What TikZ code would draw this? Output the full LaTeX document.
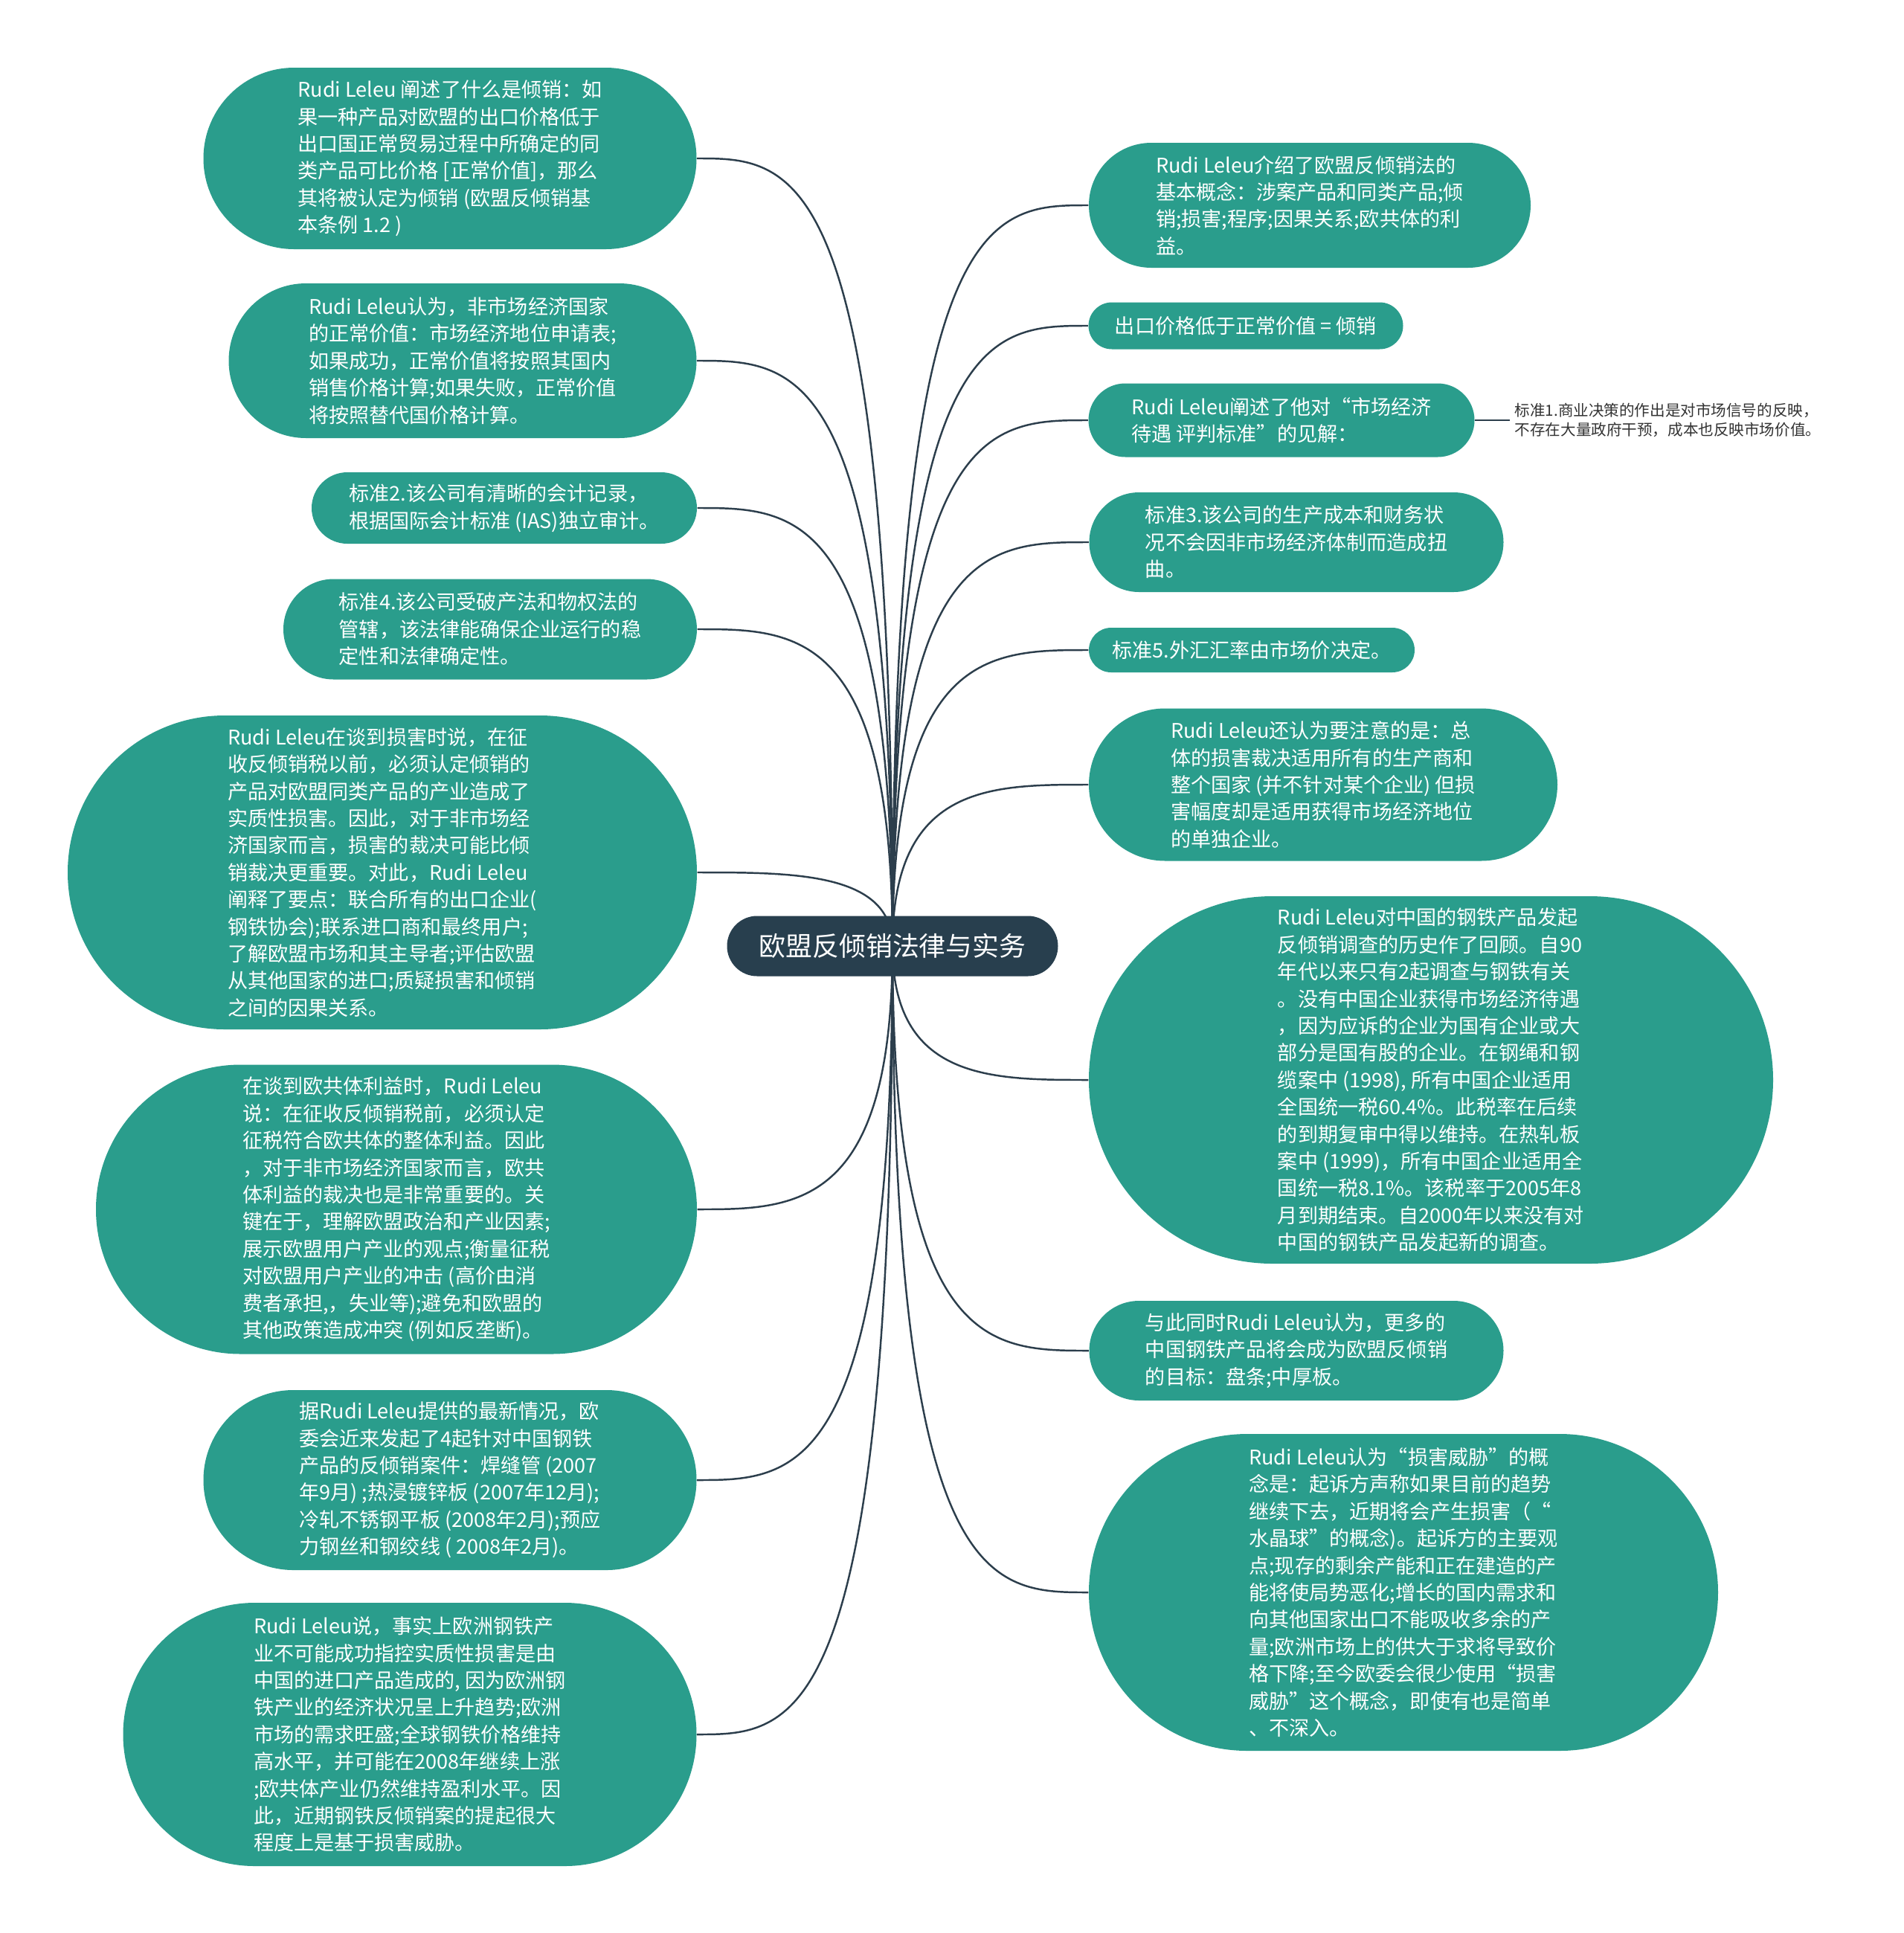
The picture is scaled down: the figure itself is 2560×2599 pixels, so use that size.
\documentclass[tikz,border=0pt]{standalone}
\usepackage{fontspec}
\setmainfont{Noto Sans CJK SC}
\usetikzlibrary{shapes.misc,backgrounds,calc}
\definecolor{leafTeal}{HTML}{2A9D8C}
\definecolor{hubSlate}{HTML}{283F4E}
\definecolor{linkSlate}{HTML}{2C3E4C}

\begin{document}
\begin{tikzpicture}[x=0.01cm,y=-0.01cm,
  leaf/.style={rounded rectangle, fill=leafTeal, text=white, inner sep=0pt, align=left, font=\fontsize{7.7}{10.35}\selectfont},
  hub/.style={rounded rectangle, fill=hubSlate, text=white, inner sep=0pt, font=\fontsize{10.2}{12}\selectfont},
  note/.style={inner sep=0pt, align=left, text=black!80, font=\fontsize{5.85}{7.5}\selectfont},
  link/.style={draw=linkSlate, line width=0.7pt}]
\useasboundingbox (0,0) rectangle (2560,2599);
\node[hub, minimum width=445*0.01cm, minimum height=81*0.01cm] (root) at (1200,1272) {欧盟反倾销法律与实务};
% left branch
\node[leaf, minimum width=663*0.01cm, minimum height=244*0.01cm] (l1) at (605,213) {Rudi Leleu 阐述了什么是倾销：如\\果一种产品对欧盟的出口价格低于\\出口国正常贸易过程中所确定的同\\类产品可比价格 [正常价值]，那么\\其将被认定为倾销 (欧盟反倾销基\\本条例 1.2 )};
\node[leaf, minimum width=629*0.01cm, minimum height=208*0.01cm] (l2) at (622,485) {Rudi Leleu认为，非市场经济国家\\的正常价值：市场经济地位申请表;\\如果成功，正常价值将按照其国内\\销售价格计算;如果失败，正常价值\\将按照替代国价格计算。};
\node[leaf, minimum width=518*0.01cm, minimum height=96*0.01cm] (l3) at (678,683) {标准2.该公司有清晰的会计记录，\\根据国际会计标准 (IAS)独立审计。};
\node[leaf, minimum width=556*0.01cm, minimum height=135*0.01cm] (l4) at (659,846) {标准4.该公司受破产法和物权法的\\管辖，该法律能确保企业运行的稳\\定性和法律确定性。};
\node[leaf, minimum width=846*0.01cm, minimum height=422*0.01cm] (l5) at (514,1173) {Rudi Leleu在谈到损害时说，在征\\收反倾销税以前，必须认定倾销的\\产品对欧盟同类产品的产业造成了\\实质性损害。因此，对于非市场经\\济国家而言，损害的裁决可能比倾\\销裁决更重要。对此，Rudi Leleu\\阐释了要点：联合所有的出口企业(\\钢铁协会);联系进口商和最终用户;\\了解欧盟市场和其主导者;评估欧盟\\从其他国家的进口;质疑损害和倾销\\之间的因果关系。};
\node[leaf, minimum width=808*0.01cm, minimum height=389*0.01cm] (l6) at (533,1626) {在谈到欧共体利益时，Rudi Leleu\\说：在征收反倾销税前，必须认定\\征税符合欧共体的整体利益。因此\\，对于非市场经济国家而言，欧共\\体利益的裁决也是非常重要的。关\\键在于，理解欧盟政治和产业因素;\\展示欧盟用户产业的观点;衡量征税\\对欧盟用户产业的冲击 (高价由消\\费者承担,，失业等);避免和欧盟的\\其他政策造成冲突 (例如反垄断)。};
\node[leaf, minimum width=663*0.01cm, minimum height=242*0.01cm] (l7) at (605,1990) {据Rudi Leleu提供的最新情况，欧\\委会近来发起了4起针对中国钢铁\\产品的反倾销案件：焊缝管 (2007\\年9月) ;热浸镀锌板 (2007年12月);\\冷轧不锈钢平板 (2008年2月);预应\\力钢丝和钢绞线 ( 2008年2月)。};
\node[leaf, minimum width=771*0.01cm, minimum height=354*0.01cm] (l8) at (551,2332) {Rudi Leleu说，事实上欧洲钢铁产\\业不可能成功指控实质性损害是由\\中国的进口产品造成的, 因为欧洲钢\\铁产业的经济状况呈上升趋势;欧洲\\市场的需求旺盛;全球钢铁价格维持\\高水平，并可能在2008年继续上涨\\;欧共体产业仍然维持盈利水平。因\\此，近期钢铁反倾销案的提起很大\\程度上是基于损害威胁。};
% right branch
\node[leaf, minimum width=594*0.01cm, minimum height=168*0.01cm] (r1) at (1761,276) {Rudi Leleu介绍了欧盟反倾销法的\\基本概念：涉案产品和同类产品;倾\\销;损害;程序;因果关系;欧共体的利\\益。};
\node[leaf, minimum width=423*0.01cm, minimum height=63*0.01cm] (r2) at (1675,438) {出口价格低于正常价值 = 倾销};
\node[leaf, minimum width=519*0.01cm, minimum height=99*0.01cm] (r3) at (1723,565) {Rudi Leleu阐述了他对“市场经济\\待遇 评判标准”的见解：};
\node[note, anchor=west] (r3a) at (2036,565) {标准1.商业决策的作出是对市场信号的反映，\\不存在大量政府干预，成本也反映市场价值。};
\node[leaf, minimum width=557*0.01cm, minimum height=134*0.01cm] (r4) at (1743,729) {标准3.该公司的生产成本和财务状\\况不会因非市场经济体制而造成扭\\曲。};
\node[leaf, minimum width=438*0.01cm, minimum height=60*0.01cm] (r5) at (1683,874) {标准5.外汇汇率由市场价决定。};
\node[leaf, minimum width=630*0.01cm, minimum height=205*0.01cm] (r6) at (1779,1055) {Rudi Leleu还认为要注意的是：总\\体的损害裁决适用所有的生产商和\\整个国家 (并不针对某个企业) 但损\\害幅度却是适用获得市场经济地位\\的单独企业。};
\node[leaf, minimum width=920*0.01cm, minimum height=494*0.01cm] (r7) at (1924,1452) {Rudi Leleu对中国的钢铁产品发起\\反倾销调查的历史作了回顾。自90\\年代以来只有2起调查与钢铁有关\\。没有中国企业获得市场经济待遇\\，因为应诉的企业为国有企业或大\\部分是国有股的企业。在钢绳和钢\\缆案中 (1998), 所有中国企业适用\\全国统一税60.4\%。此税率在后续\\的到期复审中得以维持。在热轧板\\案中 (1999)，所有中国企业适用全\\国统一税8.1\%。该税率于2005年8\\月到期结束。自2000年以来没有对\\中国的钢铁产品发起新的调查。};
\node[leaf, minimum width=557*0.01cm, minimum height=134*0.01cm] (r8) at (1743,1816) {与此同时Rudi Leleu认为，更多的\\中国钢铁产品将会成为欧盟反倾销\\的目标：盘条;中厚板。};
\node[leaf, minimum width=846*0.01cm, minimum height=426*0.01cm] (r9) at (1887,2141) {Rudi Leleu认为“损害威胁”的概\\念是：起诉方声称如果目前的趋势\\继续下去，近期将会产生损害（“\\水晶球”的概念)。起诉方的主要观\\点;现存的剩余产能和正在建造的产\\能将使局势恶化;增长的国内需求和\\向其他国家出口不能吸收多余的产\\量;欧洲市场上的供大于求将导致价\\格下降;至今欧委会很少使用“损害\\威胁”这个概念，即使有也是简单\\、不深入。};
% connectors
\begin{scope}[on background layer]
\fill[white] (0,0) rectangle (2560,2599);
\foreach \n in {l1,l2,l3,l4,l5,l6,l7,l8}
  \draw[link] (root.center) .. controls (root.center |- \n.east) and ($(root.center |- \n.east)!0.5!(\n.east)$) .. (\n.east);
\foreach \n in {r1,r2,r3,r4,r5,r6,r7,r8,r9}
  \draw[link] (root.center) .. controls (root.center |- \n.west) and ($(root.center |- \n.west)!0.5!(\n.west)$) .. (\n.west);
\draw[link] (r3.east) -- ([xshift=-6*0.01cm]r3a.west);
\end{scope}
\end{tikzpicture}
\end{document}
